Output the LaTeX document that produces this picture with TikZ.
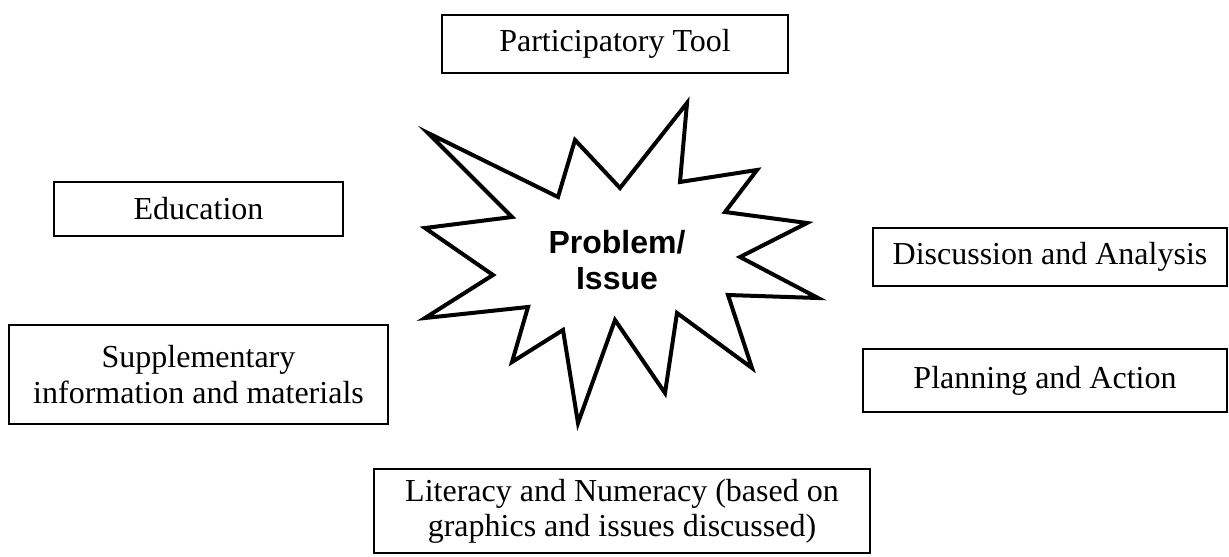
\documentclass[tikz,border=0pt]{standalone}
\usepackage{fontspec}
\setmainfont{Liberation Serif}
\newfontfamily\starfont{Liberation Sans}
\usetikzlibrary{positioning}
\tikzstyle{topic} = [rectangle, draw=black, line width=0.7pt, inner sep=0pt, text centered, align=center, font=\fontsize{12}{13.2}\selectfont]
\tikzstyle{burst} = [draw=black, line width=1.5pt, line join=miter, fill=white]
\tikzstyle{centre} = [align=center, font=\starfont\bfseries\fontsize{12}{13.5}\selectfont]

\begin{document}
\begin{tikzpicture}[x=0.375pt, y=-0.375pt]
\useasboundingbox (0,0) rectangle (1229,556);

% central burst
\draw [burst] (428,133) -- (558,197) -- (575,140) -- (620,188) -- (687,103) -- (680,182)
  -- (757,170) -- (725,212) -- (807,223) -- (740,257) -- (818,298) -- (728,295)
  -- (752,368) -- (677,313) -- (665,393) -- (615,320) -- (578,423) -- (563,330)
  -- (512,362) -- (528,307) -- (425,318) -- (493,275) -- (425,228) -- (512,217) -- cycle;
\node (issue) [centre] at (617,260) {Problem/\\Issue};

\node (tool) [topic, minimum width=129.75pt, minimum height=21.75pt] at (615,44) {Participatory Tool};
\node (edu) [topic, minimum width=108.4pt, minimum height=20.25pt] at (198.5,209) {Education};
\node (disc) [topic, minimum width=132.75pt, minimum height=21.75pt] at (1050,257) {Discussion and Analysis};
\node (plan) [topic, minimum width=136.5pt, minimum height=23.6pt] at (1045,380.5) {Planning and Action};
\node (supp) [topic, minimum width=142.1pt, minimum height=37.1pt] at (198.5,374.5) {Supplementary\\information and materials};
\node (lit) [topic, minimum width=186pt, minimum height=31.5pt] at (622,511) {Literacy and Numeracy (based on\\graphics and issues discussed)};

\end{tikzpicture}
\end{document}
